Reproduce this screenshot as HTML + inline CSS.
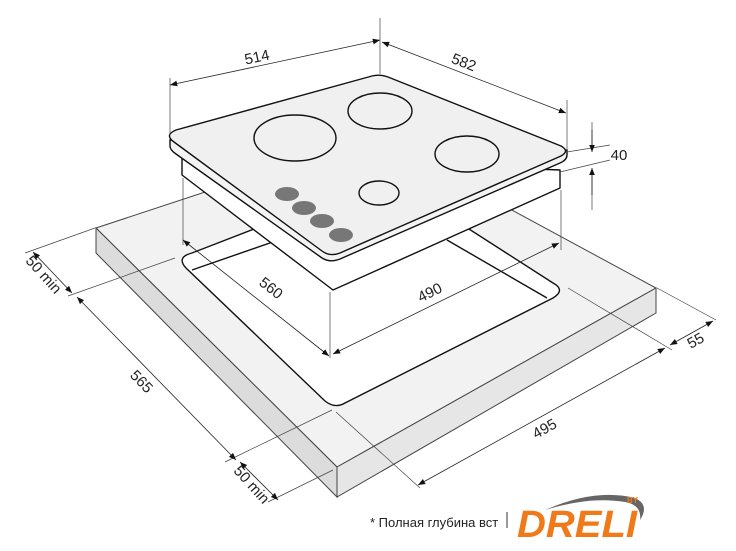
<!DOCTYPE html>
<html><head><meta charset="utf-8"><style>
html,body{margin:0;padding:0;background:#fff;}
svg{display:block;}
text{font-family:"Liberation Sans",sans-serif;fill:#222;}
</style></head><body>
<svg width="736" height="551" viewBox="0 0 736 551" xmlns="http://www.w3.org/2000/svg">
<defs>
<marker id="a" viewBox="0 0 10 10" refX="10" refY="5" markerWidth="9" markerHeight="9" orient="auto-start-reverse"><path d="M0,1 L10,5 L0,9 z" fill="#111"/></marker>
</defs>
<!-- countertop -->
<polygon points="96,228 375,136 656,288 337,467" fill="#f2f2f2" stroke="#444" stroke-width="1"/>
<polygon points="96,228 337,467 337,497 96,253" fill="#dcdcdc" stroke="#444" stroke-width="1"/>
<polygon points="337,467 656,288 656,313 337,497" fill="#e6e6e6" stroke="#444" stroke-width="1"/>
<!-- cutout -->
<path d="M192,253 L388,177 L553,283 Q566,290 553,298 L345,403 Q335,409 325,401 L186,268 Q176,257 192,253 Z" fill="#fff" stroke="#111" stroke-width="1.4"/>
<line x1="447" y1="240" x2="547" y2="298" stroke="#111" stroke-width="1.4"/>
<line x1="192" y1="270" x2="290" y2="236" stroke="#111" stroke-width="1.4"/>
<!-- hob body -->
<polygon points="182,155 560,170 560,188 333,290 182,175" fill="#fff" stroke="#111" stroke-width="1.4" stroke-linejoin="round"/>
<!-- plate edge -->
<path d="M170,140 L170,146 Q170,150 176,154 L322,258 Q330,263 340,259 L560,163 Q567,160 567,155 L567,150 Z" fill="#f4f4f4" stroke="#111" stroke-width="1.4"/>
<!-- plate top -->
<path d="M176,130 L372,76 Q380,74 388,77 L561,146 Q570,151 561,156 L340,253 Q330,257 322,251 L174,142 Q164,135 176,130 Z" fill="#f0f0f0" stroke="#111" stroke-width="1.4"/>
<g fill="none" stroke="#111" stroke-width="1.4">
<ellipse cx="295" cy="138" rx="41" ry="23"/>
<ellipse cx="380" cy="111" rx="32" ry="18"/>
<ellipse cx="467" cy="154" rx="32" ry="18"/>
<ellipse cx="379" cy="193" rx="20" ry="12"/>
</g>
<g fill="#777">
<ellipse cx="287" cy="194" rx="12" ry="7"/>
<ellipse cx="304" cy="208" rx="12" ry="7"/>
<ellipse cx="322" cy="221" rx="12" ry="7"/>
<ellipse cx="341" cy="235" rx="12" ry="7"/>
</g>
<!-- extension lines -->
<g stroke="#444" stroke-width="0.7" fill="none">
<line x1="170" y1="78" x2="170" y2="135"/>
<line x1="380" y1="18" x2="380" y2="74"/>
<line x1="567" y1="100" x2="567" y2="150"/>
<line x1="567" y1="152" x2="610" y2="145"/>
<line x1="560" y1="172" x2="610" y2="160"/>
<line x1="592" y1="122" x2="592" y2="150"/>
<line x1="592" y1="172" x2="592" y2="210"/>
<line x1="183" y1="178" x2="183" y2="245"/>
<line x1="330" y1="292" x2="330" y2="358"/>
<line x1="561" y1="190" x2="561" y2="250"/>
<line x1="25" y1="253" x2="95" y2="228"/>
<line x1="68" y1="296" x2="175" y2="258"/>
<line x1="225" y1="462" x2="332" y2="410"/>
<line x1="268" y1="502" x2="333" y2="470"/>
<line x1="568" y1="288" x2="672" y2="350"/>
<line x1="657" y1="288" x2="716" y2="320"/>
<line x1="336" y1="412" x2="420" y2="488"/>
</g>
<!-- dimension lines -->
<g stroke="#222" stroke-width="0.8" fill="none" marker-start="url(#a)" marker-end="url(#a)">
<line x1="170" y1="85" x2="380" y2="40"/>
<line x1="382" y1="42" x2="566" y2="113"/>
<line x1="183" y1="240" x2="329" y2="356"/>
<line x1="333" y1="354" x2="559" y2="243"/>
<line x1="33" y1="252" x2="72" y2="293"/>
<line x1="77" y1="297" x2="236" y2="460"/>
<line x1="240" y1="462" x2="278" y2="500"/>
<line x1="418" y1="485" x2="665" y2="348"/>
<line x1="670" y1="345" x2="713" y2="321"/>
</g>
<g stroke="#222" stroke-width="0.8" marker-end="url(#a)">
<line x1="592" y1="130" x2="592" y2="152"/>
<line x1="592" y1="195" x2="592" y2="168"/>
</g>
<g font-size="15">
<text x="258" y="62" transform="rotate(-12 258 62)" text-anchor="middle">514</text>
<text x="462" y="67" transform="rotate(21 462 67)" text-anchor="middle">582</text>
<text x="619" y="160" text-anchor="middle">40</text>
<text x="268" y="292" transform="rotate(38 268 292)" text-anchor="middle">560</text>
<text x="432" y="297" transform="rotate(-26 432 297)" text-anchor="middle">490</text>
<text x="40" y="278" transform="rotate(48 40 278)" text-anchor="middle">50 min</text>
<text x="138" y="385" transform="rotate(46 138 385)" text-anchor="middle">565</text>
<text x="248" y="488" transform="rotate(48 248 488)" text-anchor="middle">50 min</text>
<text x="547" y="433" transform="rotate(-29 547 433)" text-anchor="middle">495</text>
<text x="698" y="345" transform="rotate(-29 698 345)" text-anchor="middle">55</text>
</g>
<text x="370" y="527" font-size="13">* Полная глубина вст</text>
<line x1="507" y1="512" x2="507" y2="528" stroke="#333" stroke-width="1"/>
<path d="M545,510 Q595,488 635,498 Q650,505 640,520 Q642,505 625,502 Q590,496 545,510 Z" fill="#666"/>
<text x="517" y="537" font-size="38" font-weight="bold" font-style="italic" style="fill:#f07a1a" textLength="120" lengthAdjust="spacingAndGlyphs">DRELI</text>
<text x="627" y="503" font-size="8" font-weight="bold" style="fill:#f07a1a">BY</text>
</svg>
</body></html>
